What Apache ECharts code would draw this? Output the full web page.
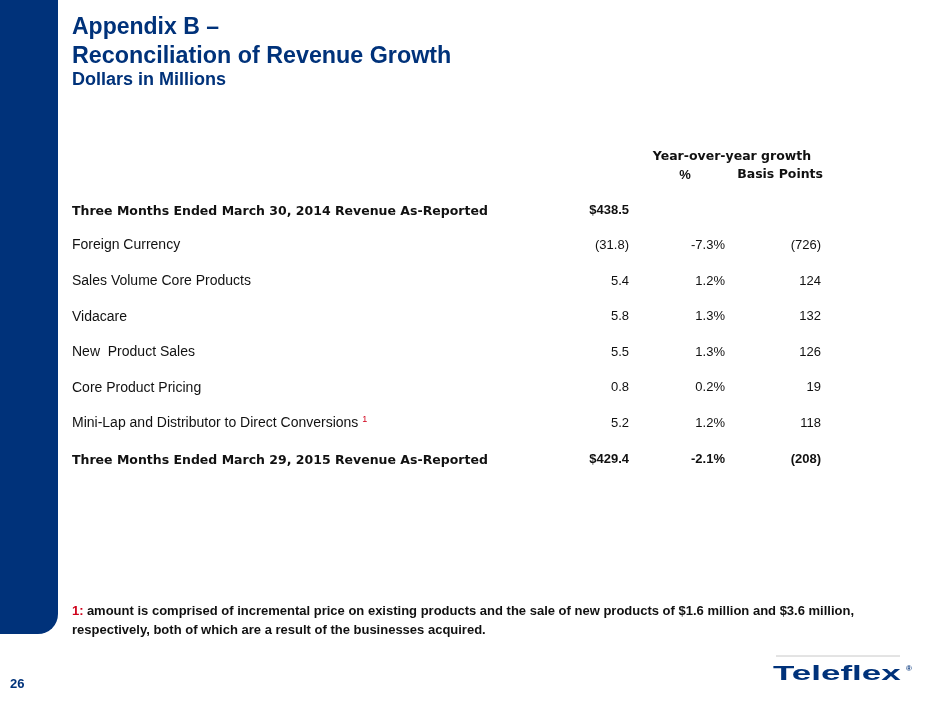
<!DOCTYPE html>
<html>
<head>
<meta charset="utf-8">
<script src="https://cdn.jsdelivr.net/npm/echarts@6/dist/echarts.min.js"></script>
<style>
  html, body { margin: 0; padding: 0; background: #fff; }
  #chart { width: 940px; height: 705px; }
</style>
</head>
<body>
<div id="chart"></div>
<script>
// table rows (top to bottom)
const rowLabels = [
  'Three Months Ended March 30, 2014 Revenue As-Reported',
  'Foreign Currency',
  'Sales Volume Core Products',
  'Vidacare',
  'New  Product Sales',
  'Core Product Pricing',
  'Mini-Lap and Distributor to Direct Conversions',
  'Three Months Ended March 29, 2015 Revenue As-Reported'
]
const boldRows = [0, 7]
const footnoteRows = [6]
const columns = ['amount', 'pct', 'bps']
// dollars in millions
const amounts = [438.5, -31.8, 5.4, 5.8, 5.5, 0.8, 5.2, 429.4]
// year-over-year growth, %
const pctGrowth = [null, -7.3, 1.2, 1.3, 1.3, 0.2, 1.2, -2.1]
// year-over-year growth, basis points
const bpsGrowth = [null, -726, 124, 132, 126, 19, 118, -208]

const navy = '#00327a'
const ink = '#111'
const font = '"Liberation Sans", Arial, Helvetica, sans-serif'
// wider face for the tracked-out bold headings
const wide = '"DejaVu Sans", Verdana, sans-serif'

const fmtAmount = (v, i) => {
  if (i === 0 || i === rowLabels.length - 1) return '$' + v.toFixed(1)
  return v < 0 ? '(' + Math.abs(v).toFixed(1) + ')' : v.toFixed(1)
}
const fmtPct = (v) => v.toFixed(1) + '%'
const fmtBps = (v) => (v < 0 ? '(' + Math.abs(v) + ')' : String(v))

const makeSeries = (values, colIdx, fmt) => ({
  type: 'scatter',
  symbolSize: 0,
  silent: true,
  itemStyle: {opacity: 1},
  data: values.map((v, i) => {
    if (v === null) return null
    const bold = boldRows.includes(i)
    return {
      value: [colIdx, i],
      label: {
        formatter: fmt(v, i),
        fontWeight: bold ? 'bold' : 'normal',
        color: ink
      }
    }
  }).filter(Boolean),
  label: {
    show: true,
    position: 'left',
    distance: 0,
    fontFamily: font,
    fontSize: 13,
    color: ink
  }
})

const chart = echarts.init(document.getElementById('chart'), null, {renderer: 'canvas'})

chart.setOption({
  backgroundColor: '#fff',
  animation: false,
  grid: {left: 629, right: 119, top: 210, bottom: 246},
  xAxis: {
    type: 'category',
    data: columns,
    boundaryGap: false,
    axisLine: {show: false},
    axisTick: {show: false},
    axisLabel: {show: false},
    splitLine: {show: false}
  },
  yAxis: {
    type: 'category',
    data: rowLabels,
    inverse: true,
    boundaryGap: false,
    axisLine: {show: false},
    axisTick: {show: false},
    splitLine: {show: false},
    axisLabel: {
      interval: 0,
      align: 'left',
      margin: 557,
      fontFamily: font,
      fontSize: 14,
      color: ink,
      formatter: (val, i) => {
        if (boldRows.includes(i)) return '{b|' + val + '}'
        if (footnoteRows.includes(i)) return '{n|' + val + '} {s|1}'
        return '{n|' + val + '}'
      },
      rich: {
        b: {fontFamily: wide, fontSize: 12.5, fontWeight: 'bold', color: ink, padding: [3, 0, 0, 0]},
        n: {fontFamily: font, fontSize: 14, color: ink},
        s: {fontFamily: font, fontSize: 9, color: '#d0021b', verticalAlign: 'top', padding: [0, 0, 8, 0]}
      }
    }
  },
  series: [
    makeSeries(amounts, 0, fmtAmount),
    makeSeries(pctGrowth, 1, fmtPct),
    makeSeries(bpsGrowth, 2, fmtBps)
  ],
  graphic: [
    // left blue band
    {type: 'rect', shape: {x: 0, y: 0, width: 58, height: 634, r: [0, 0, 20, 0]}, style: {fill: navy}, silent: true},
    // titles
    {type: 'text', left: 72, top: 16, style: {text: 'Appendix B \u2013', font: 'bold 23px ' + font, fill: navy}},
    {type: 'text', left: 72, top: 45, style: {text: 'Reconciliation of Revenue Growth', font: 'bold 23.3px ' + font, fill: navy}},
    {type: 'text', left: 72, top: 71, style: {text: 'Dollars in Millions', font: 'bold 18px ' + font, fill: navy}},
    // column headers
    {type: 'text', x: 732, y: 157, style: {text: 'Year-over-year growth', font: 'bold 12.5px ' + wide, fill: ink, align: 'center', verticalAlign: 'middle'}},
    {type: 'text', x: 685, y: 175, style: {text: '%', font: 'bold 13px ' + font, fill: ink, align: 'center', verticalAlign: 'middle'}},
    {type: 'text', x: 823, y: 175, style: {text: 'Basis Points', font: 'bold 12.5px ' + wide, fill: ink, align: 'right', verticalAlign: 'middle'}},
    // footnote
    {
      type: 'text', left: 72, top: 602,
      style: {
        text: '{r|1:} {k|amount is comprised of incremental price on existing products and the sale of new products of $1.6 million and $3.6 million,}\n{k|respectively, both of which are a result of the businesses acquired.}',
        lineHeight: 19,
        rich: {
          r: {font: 'bold 13px ' + font, fill: '#d0021b'},
          k: {font: 'bold 13px ' + font, fill: ink}
        }
      }
    },
    // page number
    {type: 'text', left: 10, top: 678, style: {text: '26', font: 'bold 13px ' + font, fill: navy}},
    // logo
    {type: 'line', shape: {x1: 776, y1: 656, x2: 900, y2: 656}, style: {stroke: '#c8c8c8', lineWidth: 1}},
    {type: 'text', x: 773, y: 674, scaleX: 1.75, style: {text: 'Teleflex', font: '900 20px ' + font, fill: navy, verticalAlign: 'middle'}},
    {type: 'text', x: 906, y: 669, style: {text: '\u00ae', font: 'bold 8px ' + font, fill: navy, verticalAlign: 'middle'}}
  ]
})
</script>
</body>
</html>
